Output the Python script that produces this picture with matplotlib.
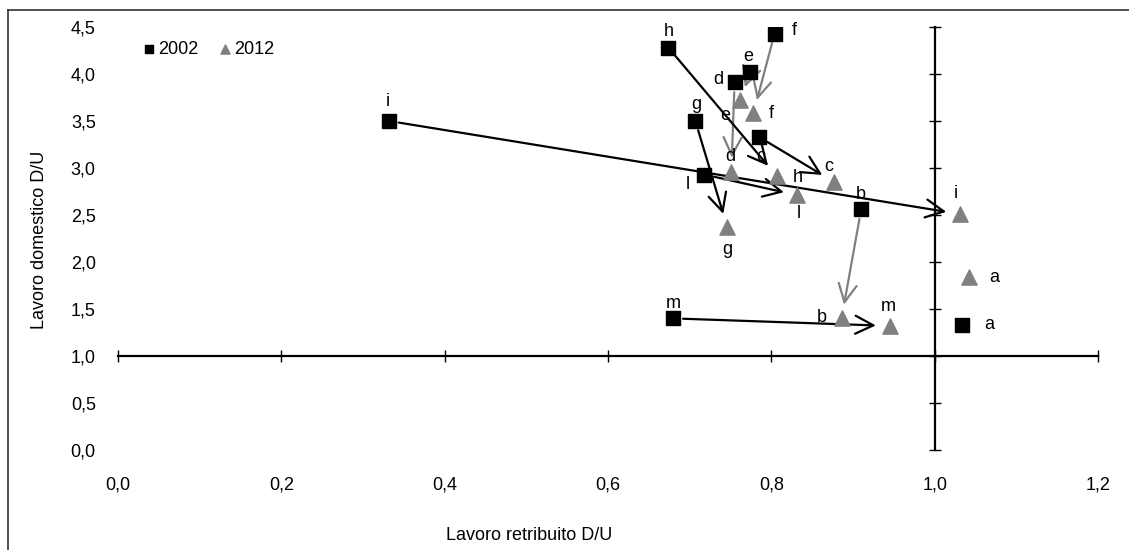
import matplotlib.pyplot as plt
from matplotlib.lines import Line2D

plt.rcParams['font.family'] = ['Liberation Sans', 'DejaVu Sans']

# ── Data ─────────────────────────────────────────────────────────────────────
labels = ['a', 'b', 'c', 'd', 'e', 'f', 'g', 'h', 'i', 'l', 'm']
x2002 = [1.034, 0.910, 0.785, 0.755, 0.774, 0.804, 0.707, 0.674, 0.332, 0.718, 0.680]
y2002 = [1.33, 2.56, 3.33, 3.91, 4.02, 4.43, 3.50, 4.28, 3.50, 2.93, 1.40]
x2012 = [1.042, 0.886, 0.877, 0.751, 0.762, 0.778, 0.746, 0.807, 1.031, 0.832, 0.945]
y2012 = [1.84, 1.40, 2.85, 2.96, 3.72, 3.58, 2.37, 2.91, 2.51, 2.71, 1.32]

gray_arrows = ['b', 'd', 'e', 'f']
no_arrow = ['a']

xticks = [0.0, 0.2, 0.4, 0.6, 0.8, 1.0, 1.2]
yticks = [0.0, 0.5, 1.0, 1.5, 2.0, 2.5, 3.0, 3.5, 4.0, 4.5]
xtick_labels = ['0,0', '0,2', '0,4', '0,6', '0,8', '1,0', '1,2']
ytick_labels = ['0,0', '0,5', '1,0', '1,5', '2,0', '2,5', '3,0', '3,5', '4,0', '4,5']

# label offsets in points (style only)
off2002 = {'a': (19, 0), 'b': (0, 11), 'c': (1, -14), 'd': (-12, 2), 'e': (-1, 11),
           'f': (14, 2), 'g': (1, 12), 'h': (0, 12), 'i': (-1, 14), 'l': (-12, -7),
           'm': (0, 11)}
off2012 = {'a': (18, 0), 'b': (-14, 1), 'c': (-4, 11), 'd': (-1, 11), 'e': (-11, -11),
           'f': (13, 0), 'g': (0, -16), 'h': (15, -1), 'i': (-3, 15), 'l': (1, -13),
           'm': (-1, 14)}

GRAY = '#808080'
FS = 13
W, H = 1129, 550
rect = [118 / W, 1 - 450 / H, 980 / W, 423 / H]

fig = plt.figure(figsize=(W / 100, H / 100), dpi=100)

# ── Crossing axes (at 1,0 / 1,0) ─────────────────────────────────────────────
axf = fig.add_axes(rect)
axf.set_xlim(0, 1.2)
axf.set_ylim(0, 4.5)
axf.spines['left'].set_position(('data', 1.0))
axf.spines['bottom'].set_position(('data', 1.0))
axf.spines[['top', 'right']].set_visible(False)
axf.spines[['left', 'bottom']].set_linewidth(1.6)
axf.set_xticks(xticks)
axf.set_yticks(yticks)
axf.tick_params(direction='inout', length=9, width=1.0,
                labelleft=False, labelbottom=False)

# ── Data axes ────────────────────────────────────────────────────────────────
ax = fig.add_axes(rect)
ax.set_xlim(0, 1.2)
ax.set_ylim(0, 4.5)
ax.patch.set_visible(False)
for s in ax.spines.values():
    s.set_visible(False)
ax.set_xticks(xticks, xtick_labels)
ax.set_yticks(yticks, ytick_labels)
ax.tick_params(axis='x', length=0, pad=19, labelsize=FS)
ax.tick_params(axis='y', length=0, pad=16, labelsize=FS)

for lab, xa, ya, xb, yb in zip(labels, x2002, y2002, x2012, y2012):
    if lab in no_arrow:
        continue
    col = GRAY if lab in gray_arrows else 'black'
    ax.annotate('', xy=(xb, yb), xytext=(xa, ya),
                arrowprops=dict(arrowstyle='->,head_length=1.0,head_width=0.5',
                                mutation_scale=13, color=col, lw=1.6,
                                shrinkA=7, shrinkB=10))

ax.scatter(x2002, y2002, marker='s', s=110, color='black', zorder=3, label='2002')
ax.scatter(x2012, y2012, marker='^', s=120, color=GRAY, zorder=3, label='2012')

for lab, xa, ya in zip(labels, x2002, y2002):
    ax.annotate(lab, (xa, ya), xytext=off2002[lab], textcoords='offset points',
                ha='center', va='center', fontsize=FS)
for lab, xb, yb in zip(labels, x2012, y2012):
    ax.annotate(lab, (xb, yb), xytext=off2012[lab], textcoords='offset points',
                ha='center', va='center', fontsize=FS)

ax.legend(loc='upper left', bbox_to_anchor=(0.015, 0.985), ncol=2, frameon=False,
          fontsize=FS, markerscale=0.6, handletextpad=0.0, columnspacing=1.0,
          handlelength=1.0, borderaxespad=0)

fig.text(40 / W, 1 - 240 / H, 'Lavoro domestico D/U', rotation=90,
         ha='center', va='center', fontsize=FS)
fig.text(529 / W, 1 - 535 / H, 'Lavoro retribuito D/U',
         ha='center', va='center', fontsize=FS)

# chart area border (left and top edges)
fig.add_artist(Line2D([8 / W, 8 / W], [0, 1 - 10 / H], color='#333333', lw=1.2))
fig.add_artist(Line2D([8 / W, 1], [1 - 10 / H, 1 - 10 / H], color='#333333', lw=1.2))

fig.savefig('out.png', dpi=100)
